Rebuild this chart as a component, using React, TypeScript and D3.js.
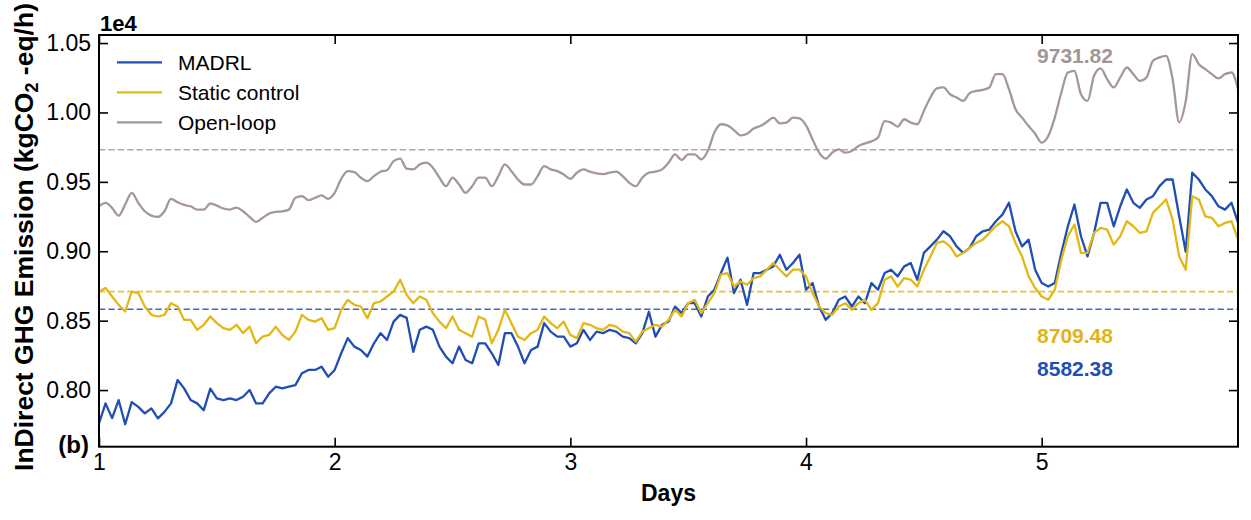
import React, { useEffect, useRef } from 'react';
import * as d3 from 'd3';

// one reading every 40 minutes, starting at day 1
const STEP_DAYS = 1 / 36;
const START_DAY = 1;

const madrl = [
  7759, 7904, 7798, 7928, 7754, 7913, 7879, 7832, 7868, 7796, 7843, 7904, 8072, 8012, 7928, 7904, 7855, 8010, 7940, 7928,
  7940, 7928, 7952, 8000, 7904, 7904, 7976, 8024, 8012, 8024, 8036, 8121, 8145, 8145, 8168, 8096, 8145, 8265, 8374, 8313,
  8289, 8241, 8337, 8410,
  8361, 8493, 8542, 8520, 8275, 8434, 8457, 8434, 8313, 8241, 8193, 8313, 8217, 8193, 8337, 8337, 8265, 8181, 8410, 8410,
  8313, 8193, 8289, 8313, 8482, 8421, 8385, 8385, 8313, 8337, 8434, 8361, 8421, 8410, 8434, 8421, 8385, 8374, 8337, 8410,
  8564, 8385, 8470,
  8493, 8602, 8554, 8626, 8626, 8530, 8674, 8723, 8843, 8954, 8699, 8795, 8614, 8843, 8843, 8867, 8891, 8975, 8867, 8915,
  8975, 8723, 8771, 8602, 8506, 8554, 8650, 8674, 8602, 8674, 8626, 8771, 8723, 8843, 8867, 8819, 8891, 8915, 8795, 8988,
  9035, 9084, 9144, 9108,
  9035, 8988, 9024, 9108, 9144, 9156, 9216, 9264, 9349, 9144, 9035, 9084, 8867, 8771, 8746, 8771, 8988, 9180, 9337, 9108,
  8963, 9132, 9349, 9349, 9180, 9324, 9445, 9349, 9313, 9373, 9397, 9469, 9517, 9517, 9252, 8997, 9566, 9517, 9445, 9397,
  9324, 9300, 9349, 9204,
];

const staticControl = [
  8710, 8735, 8674, 8614, 8566, 8710, 8699, 8602, 8542, 8530, 8542, 8626, 8602, 8506, 8506, 8434, 8470, 8530, 8482, 8446,
  8434, 8470, 8410, 8457, 8337, 8385, 8397, 8457, 8397, 8361, 8421, 8542, 8506, 8493, 8518, 8434, 8446, 8578, 8650, 8614,
  8602, 8518, 8626, 8638,
  8674, 8710, 8795, 8686, 8626, 8674, 8650, 8554, 8493, 8446, 8530, 8434, 8410, 8385, 8530, 8506, 8337, 8434, 8578, 8482,
  8385, 8361, 8410, 8434, 8530, 8482, 8446, 8493, 8397, 8374, 8482, 8470, 8446, 8434, 8470, 8457, 8421, 8410, 8349, 8421,
  8446, 8470, 8457,
  8506, 8578, 8530, 8626, 8650, 8554, 8626, 8699, 8831, 8843, 8746, 8782, 8759, 8807, 8819, 8867, 8915, 8867, 8819, 8867,
  8867, 8819, 8699, 8602, 8554, 8542, 8602, 8626, 8578, 8626, 8650, 8578, 8626, 8795, 8819, 8746, 8807, 8795, 8746, 8867,
  8963, 9060, 9071, 9035,
  8963, 8988, 9024, 9060, 9084, 9132, 9180, 9216, 9180, 9060, 8963, 8819, 8735, 8674, 8650, 8723, 8939, 9108, 9192, 8988,
  8988, 9132, 9168, 9156, 9048, 9108, 9216, 9180, 9132, 9144, 9277, 9324, 9373, 9228, 8963, 8867, 9397, 9373, 9252, 9241,
  9180, 9204, 9216, 9084,
];

const openLoop = [
  9324, 9349, 9313, 9257, 9337, 9421, 9349, 9288, 9257, 9248, 9288, 9378, 9353, 9334, 9324, 9300, 9300, 9344, 9329, 9308,
  9300, 9315, 9288, 9248, 9212, 9241, 9272, 9284, 9288, 9300, 9385, 9397, 9368, 9385, 9402, 9378, 9421, 9522, 9577, 9570,
  9530, 9505, 9541, 9573,
  9584, 9649, 9667, 9595, 9590, 9626, 9638, 9602, 9530, 9469, 9530, 9481, 9421, 9469, 9530, 9530, 9469, 9541, 9626, 9577,
  9517, 9481, 9481, 9541, 9613, 9590, 9577, 9553, 9522, 9566, 9590, 9573, 9561, 9556, 9566, 9573, 9541, 9493, 9469, 9530,
  9566, 9573, 9590,
  9638, 9698, 9657, 9698, 9698, 9662, 9722, 9855, 9915, 9907, 9873, 9835, 9847, 9884, 9902, 9931, 9963, 9922, 9927, 9963,
  9958, 9907, 9806, 9710, 9667, 9710, 9734, 9710, 9722, 9758, 9777, 9792, 9819, 9938, 9927, 9898, 9951, 9927, 9915, 10011,
  10108, 10173, 10180, 10131,
  10108, 10083, 10139, 10155, 10162, 10180, 10276, 10276, 10168, 10023, 9963, 9902, 9847, 9782, 9830, 9963, 10144, 10288,
  10300, 10131, 10083, 10264, 10317, 10240, 10180, 10252, 10324, 10276, 10227, 10252, 10372, 10397, 10408, 10240, 9929,
  10080, 10420, 10348, 10312, 10276, 10245, 10276, 10288, 10168,
];

const xTicks = [1, 2, 3, 4, 5];
const yTicks = [8000, 8500, 9000, 9500, 10000, 10500];

const BLUE = '#1f4eb4';
const YELLOW = '#e2b716';
const GREY = '#a69797';
const FONT = '"Liberation Sans", Arial, Helvetica, sans-serif';

const series = [
  { name: 'MADRL', values: madrl, color: BLUE, smooth: false },
  { name: 'Static control', values: staticControl, color: YELLOW, smooth: false },
  { name: 'Open-loop', values: openLoop, color: GREY, smooth: true },
];

const averages = [
  { value: 9731.82, label: '9731.82', color: GREY, text: '#a19595', labelY: 63 },
  { value: 8709.48, label: '8709.48', color: YELLOW, text: '#e0b417', labelY: 343 },
  { value: 8582.38, label: '8582.38', color: BLUE, text: BLUE, labelY: 376 },
];

const EmissionChart = () => {
  const svgRef = useRef<SVGSVGElement | null>(null);

  useEffect(() => {
    if (!svgRef.current) return;
    const svg = d3.select(svgRef.current);
    svg.selectAll('*').remove();

    const width = 1251;
    const height = 520;
    const margin = { top: 35, right: 13, bottom: 73.3, left: 99 };
    const w = width - margin.left - margin.right;
    const h = height - margin.top - margin.bottom;

    const x = d3.scaleLinear().domain([1, 5.833]).range([0, w]);
    const y = d3.scaleLinear().domain([7592, 10558]).range([h, 0]);

    const g = svg.append('g').attr('transform', `translate(${margin.left},${margin.top})`);

    svg
      .append('defs')
      .append('clipPath')
      .attr('id', 'plot-clip')
      .append('rect')
      .attr('width', w)
      .attr('height', h);

    // mean lines
    averages.forEach((a) => {
      g.append('line')
        .attr('x1', 0)
        .attr('x2', w)
        .attr('y1', y(a.value))
        .attr('y2', y(a.value))
        .attr('stroke', a.color)
        .attr('stroke-opacity', 0.85)
        .attr('stroke-width', 1.6)
        .attr('stroke-dasharray', '6.3,3.1');
    });

    const plot = g.append('g').attr('clip-path', 'url(#plot-clip)');
    series.forEach((s) => {
      const line = d3
        .line<number>()
        .x((_, i) => x(START_DAY + i * STEP_DAYS))
        .y((d) => y(d))
        .curve(s.smooth ? d3.curveMonotoneX : d3.curveLinear);
      plot
        .append('path')
        .datum(s.values)
        .attr('d', line)
        .attr('fill', 'none')
        .attr('stroke', s.color)
        .attr('stroke-width', 2.3)
        .attr('stroke-linejoin', 'round');
    });

    averages.forEach((a) => {
      g.append('text')
        .attr('x', 1075 - margin.left)
        .attr('y', a.labelY - margin.top)
        .attr('text-anchor', 'middle')
        .attr('font-family', FONT)
        .attr('font-weight', 'bold')
        .attr('font-size', 21)
        .attr('fill', a.text)
        .text(a.label);
    });

    // axes, ticks pointing inwards on all four sides
    const styleAxis = (sel) => {
      sel.select('.domain').remove();
      sel.selectAll('line').attr('stroke', '#000').attr('stroke-width', 1.6);
      sel.selectAll('text').attr('font-family', FONT).attr('font-size', 23).attr('fill', '#000');
    };

    g.append('g')
      .attr('transform', `translate(0,${h})`)
      .call(d3.axisBottom(x).tickValues(xTicks).tickFormat(d3.format('d')).tickSizeInner(-9).tickSizeOuter(0).tickPadding(7))
      .call(styleAxis);
    g.append('g')
      .call(d3.axisTop(x).tickValues(xTicks).tickFormat(() => '').tickSizeInner(-9).tickSizeOuter(0))
      .call(styleAxis);
    g.append('g')
      .call(d3.axisLeft(y).tickValues(yTicks).tickFormat((d) => (+d / 1e4).toFixed(2)).tickSizeInner(-9).tickSizeOuter(0).tickPadding(8))
      .call(styleAxis);
    g.append('g')
      .attr('transform', `translate(${w},0)`)
      .call(d3.axisRight(y).tickValues(yTicks).tickFormat(() => '').tickSizeInner(-9).tickSizeOuter(0))
      .call(styleAxis);

    g.append('rect').attr('width', w).attr('height', h).attr('fill', 'none').attr('stroke', '#000').attr('stroke-width', 2);

    // legend
    series.forEach((s, i) => {
      const ly = 62.3 + i * 30 - margin.top;
      g.append('line')
        .attr('x1', 117 - margin.left)
        .attr('x2', 162 - margin.left)
        .attr('y1', ly)
        .attr('y2', ly)
        .attr('stroke', s.color)
        .attr('stroke-width', 2.3);
      g.append('text')
        .attr('x', 178 - margin.left)
        .attr('y', ly)
        .attr('dy', '0.36em')
        .attr('font-family', FONT)
        .attr('font-size', 21)
        .attr('fill', '#000')
        .text(s.name);
    });

    svg
      .append('text')
      .attr('x', 100)
      .attr('y', 31)
      .attr('font-family', FONT)
      .attr('font-weight', 'bold')
      .attr('font-size', 22)
      .text('1e4');

    svg
      .append('text')
      .attr('x', 89)
      .attr('y', 453)
      .attr('text-anchor', 'end')
      .attr('font-family', FONT)
      .attr('font-weight', 'bold')
      .attr('font-size', 24)
      .text('(b)');

    svg
      .append('text')
      .attr('x', margin.left + w / 2)
      .attr('y', 500.7)
      .attr('text-anchor', 'middle')
      .attr('font-family', FONT)
      .attr('font-weight', 'bold')
      .attr('font-size', 23)
      .text('Days');

    const yLabel = svg
      .append('text')
      .attr('transform', 'translate(33,237) rotate(-90)')
      .attr('text-anchor', 'middle')
      .attr('font-family', FONT)
      .attr('font-weight', 'bold')
      .attr('font-size', 26.5);
    yLabel.append('tspan').text('InDirect GHG Emission (kgCO');
    yLabel.append('tspan').attr('font-size', 18).attr('dy', 5).text('2');
    yLabel.append('tspan').attr('dy', -5).text(' -eq/h)');
  }, []);

  return <svg ref={svgRef} width={1251} height={520} style={{ position: 'absolute', left: 0, top: 0, display: 'block' }} />;
};

export default function App() {
  return <EmissionChart />;
}
